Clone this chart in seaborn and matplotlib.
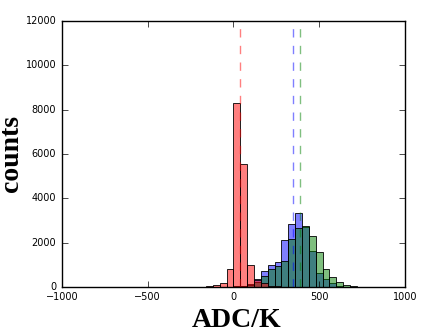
import matplotlib
matplotlib.use("Agg")
import matplotlib.pyplot as plt
import seaborn as sns

# bin centres (40 ADC/K wide bins) and counts
centers = [-180, -140, -100, -60, -20, 20, 60, 100, 140, 180, 220, 260, 300,
           340, 380, 420, 460, 500, 540, 580, 620, 660, 700, 740, 780]
red = [10, 25, 90, 200, 820, 8300, 5560, 1000, 320, 160, 60, 30, 10,
       0, 0, 0, 0, 0, 0, 0, 0, 0, 0, 0, 0]
blue = [0, 0, 0, 0, 0, 40, 60, 120, 380, 730, 1010, 1110, 2120,
        2850, 3340, 2700, 1610, 620, 350, 160, 60, 20, 0, 0, 0]
green = [0, 0, 0, 0, 0, 30, 50, 100, 220, 480, 830, 930, 1180,
         2140, 2680, 2750, 2300, 1580, 810, 450, 225, 110, 55, 20, 8]
means = {"b": 350, "g": 391, "r": 41}

plt.style.use("classic")
plt.rcParams["figure.facecolor"] = "white"
plt.rcParams["savefig.facecolor"] = "white"

fig = plt.figure(figsize=(4.48, 3.36), dpi=100)
ax = fig.add_axes([0.138, 0.146, 0.766, 0.792])

for counts, c in [(blue, "b"), (green, "g"), (red, "r")]:
    sns.histplot(x=centers, weights=counts, binwidth=40, binrange=(-1000, 1000),
                 color=c, alpha=0.5, edgecolor="k", linewidth=0.6, ax=ax)

for c, m in means.items():
    ax.axvline(m, color=c, ls="--", lw=1.0, alpha=0.5)

ax.set_xlim(-1000, 1000)
ax.set_ylim(0, 12000)
ax.set_xticks([-1000, -500, 0, 500, 1000])
ax.set_yticks(range(0, 12001, 2000))
ax.tick_params(labelsize=7, length=4)
ax.set_xlabel("ADC/K", family="Liberation Serif", fontweight="bold", fontsize=20)
ax.set_ylabel("counts", family="Liberation Serif", fontweight="bold", fontsize=20)
ax.xaxis.set_label_coords(0.51, -0.08)
ax.yaxis.set_label_coords(-0.11, 0.5)

fig.savefig("out.png", dpi=100)
